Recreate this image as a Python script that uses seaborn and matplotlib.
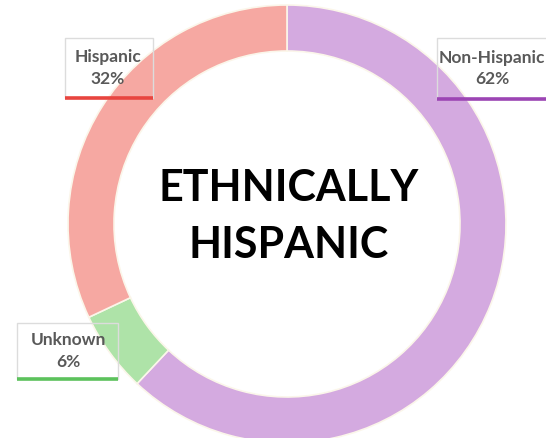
import matplotlib
matplotlib.use("Agg")
import matplotlib.pyplot as plt
from matplotlib.patches import Rectangle
import seaborn as sns

# Ethnicity breakdown
categories = ["Non-Hispanic", "Unknown", "Hispanic"]
shares = [62, 6, 32]
ring_colors = ["#d4aae0", "#aee3a8", "#f6a8a2"]
accent_colors = ["#9c45b4", "#5cc25c", "#e8453f"]
title_lines = ["ETHNICALLY", "HISPANIC"]

sns.set_theme(style="white")
plt.rcParams["font.family"] = ["Lato", "DejaVu Sans"]

W, H = 546, 438
fig = plt.figure(figsize=(W / 100, H / 100), dpi=100)
ax = fig.add_axes([0, 0, 1, 1])

cx, cy, r_out, ring_w = 287, H - 224, 219, 46
ax.pie(
    shares,
    colors=ring_colors,
    startangle=90,
    counterclock=False,
    radius=r_out,
    center=(cx, cy),
    frame=True,
    wedgeprops=dict(width=ring_w, edgecolor="#fbf6ea", linewidth=1.2),
)
ax.set_xlim(0, W)
ax.set_ylim(0, H)
ax.set_aspect("equal")
ax.axis("off")

for line, ypix in zip(title_lines, [188, 245]):
    ax.text(cx + 2, H - ypix, line, ha="center", va="center",
            fontsize=31, fontweight="bold", color="black")

# Callout boxes: (left, top, right, bottom) in pixel units, label centre x
boxes = {
    "Hispanic": (65, 38, 153, 98, 108),
    "Non-Hispanic": (437, 38, 560, 99, 492),
    "Unknown": (17, 323, 118, 379, 68),
}
for name, share, acc in zip(categories, shares, accent_colors):
    x0, y0, x1, y1, tx = boxes[name]
    ax.add_patch(Rectangle((x0, H - y1), x1 - x0, y1 - y0, fill=False,
                           edgecolor="#dcdcdc", linewidth=1.0, zorder=5))
    ax.plot([x0, x1], [H - y1, H - y1], color=acc, linewidth=2.6,
            solid_capstyle="butt", zorder=6)
    ym = (y0 + y1) / 2
    ax.text(tx, H - (ym - 11), name, ha="center", va="center",
            fontsize=12.5, fontweight="bold", color="#595959", zorder=7)
    ax.text(tx, H - (ym + 11), f"{share}%", ha="center", va="center",
            fontsize=12.5, fontweight="bold", color="#595959", zorder=7)

fig.savefig("out.png", dpi=100, facecolor="white")
